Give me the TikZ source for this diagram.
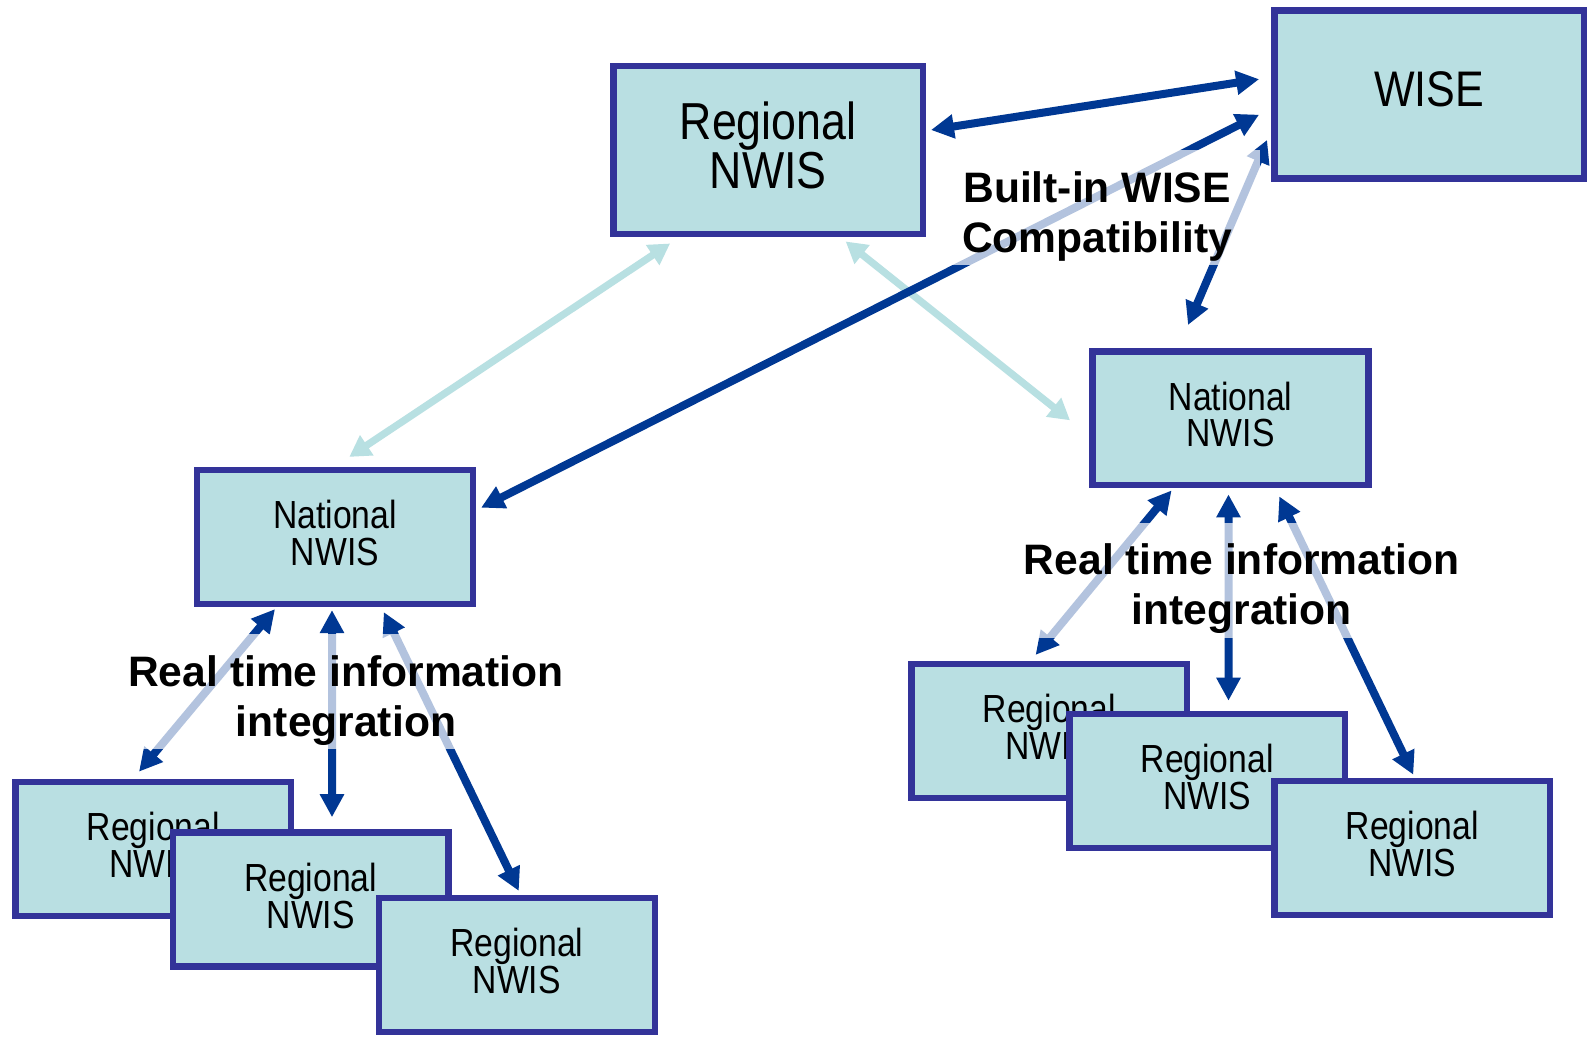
\documentclass[tikz,border=0pt]{standalone}
\usepackage{fontspec}
\usetikzlibrary{arrows.meta}
\newfontfamily\nwisfont[FakeStretch=0.86]{Liberation Sans}
\newfontfamily\labelfont{Liberation Sans}
\definecolor{nwisfill}{RGB}{185,223,226}
\definecolor{nwisdraw}{RGB}{51,51,153}
\definecolor{linkdark}{RGB}{0,56,147}
\definecolor{linklight}{RGB}{184,224,226}
\tikzset{
	node_nwis/.style = {
		rectangle,
		align=center,
		inner sep=0pt,
		draw=nwisdraw,
		fill=nwisfill,
		line width=3.2pt
	},
	node_big/.style = {
		node_nwis,
		minimum width=154.7pt,
		minimum height=84pt,
		font=\nwisfont\fontsize{26}{21.7}\selectfont,
		execute at end node={\rule[-5pt]{0pt}{0pt}}
	},
	node_small/.style = {
		node_nwis,
		minimum width=137.9pt,
		minimum height=66.9pt,
		font=\nwisfont\fontsize{19.6}{18.3}\selectfont,
		execute at end node={\rule[-4pt]{0pt}{0pt}}
	},
	node_label/.style = {
		align=center,
		anchor=north,
		inner sep=2pt,
		fill=white,
		fill opacity=0.7,
		text opacity=1,
		minimum width=162.5pt,
		font=\labelfont\bfseries\fontsize{21.3}{25}\selectfont
	},
	link_dark/.style = {
		<->,
		draw=linkdark,
		line width=4pt
	},
	link_light/.style = {
		<->,
		draw=linklight,
		line width=3.6pt,
		>={Triangle[length=10.5pt,width=11.5pt]}
	},
}
\begin{document}
\begin{tikzpicture}[x=0.5pt,y=-0.5pt,>={Triangle[length=11.5pt,width=11.5pt]}]
\fill [white] (0,0) rectangle (1592,1037);
\useasboundingbox (0,0) rectangle (1592,1037);
\node [node_big] (reg_top) at (768.1,150.3) {Regional\\NWIS};
\node [node_big, font=\nwisfont\fontsize{25}{21.7}\selectfont] (wise) at (1429,94.4) {WISE};
\node [node_small] (nat_l) at (335,537) {National\\NWIS};
\node [node_small] (nat_r) at (1230.5,418.3) {National\\NWIS};
\node [node_small] (reg_l1) at (153.3,848.8) {Regional\\NWIS};
\node [node_small] (reg_l2) at (310.7,899.5) {Regional\\NWIS};
\node [node_small] (reg_l3) at (516.8,965) {Regional\\NWIS};
\node [node_small] (reg_r1) at (1049.3,731) {Regional\\NWIS};
\node [node_small] (reg_r2) at (1207.2,780.8) {Regional\\NWIS};
\node [node_small] (reg_r3) at (1412.3,847.8) {Regional\\NWIS};
\draw [link_light] ([shift={(-98,6)}]reg_top.south) -- ([shift={(14.3,-10)}]nat_l.north);
\draw [link_light] ([shift={(77.6,4)}]reg_top.south) -- ([shift={(-19.4,2)}]nat_r.west);
\draw [link_dark] ([shift={(5,-20.3)}]reg_top.east) -- ([shift={(-12,-15.2)}]wise.west);
\draw [link_dark] ([shift={(-12,20.3)}]wise.west) -- ([shift={(5,-29.3)}]nat_l.east);
\draw [link_dark] ([shift={(-4,-41.7)}]wise.south west) -- ([shift={(-42.5,-23.2)}]nat_r.north);
\draw [link_dark] ([shift={(-60,2)}]nat_l.south) -- ([shift={(-14.3,-7)}]reg_l1.north);
\draw [link_dark] ([shift={(-3,3)}]nat_l.south) -- ([shift={(21.3,-12.2)}]reg_l2.north);
\draw [link_dark] ([shift={(48.8,5)}]nat_l.south) -- ([shift={(2,-4)}]reg_l3.north);
\draw [link_dark] ([shift={(-58.9,2)}]nat_r.south) -- ([shift={(-13.7,-6)}]reg_r1.north);
\draw [link_dark] ([shift={(-2,6)}]nat_r.south) -- ([shift={(21.3,-10)}]reg_r2.north);
\draw [link_dark] ([shift={(48.8,8)}]nat_r.south) -- ([shift={(1,-3)}]reg_r3.north);
\node [node_label] (lbl_wise) at (1097,150) {\rule{0pt}{24pt}Built-in WISE\\Compatibility};
\node [node_label] (lbl_left) at (346,634) {\rule{0pt}{24pt}Real time information\\integration};
\node [node_label] (lbl_right) at (1241.7,522.3) {\rule{0pt}{24pt}Real time information\\integration};
\end{tikzpicture}
\end{document}
